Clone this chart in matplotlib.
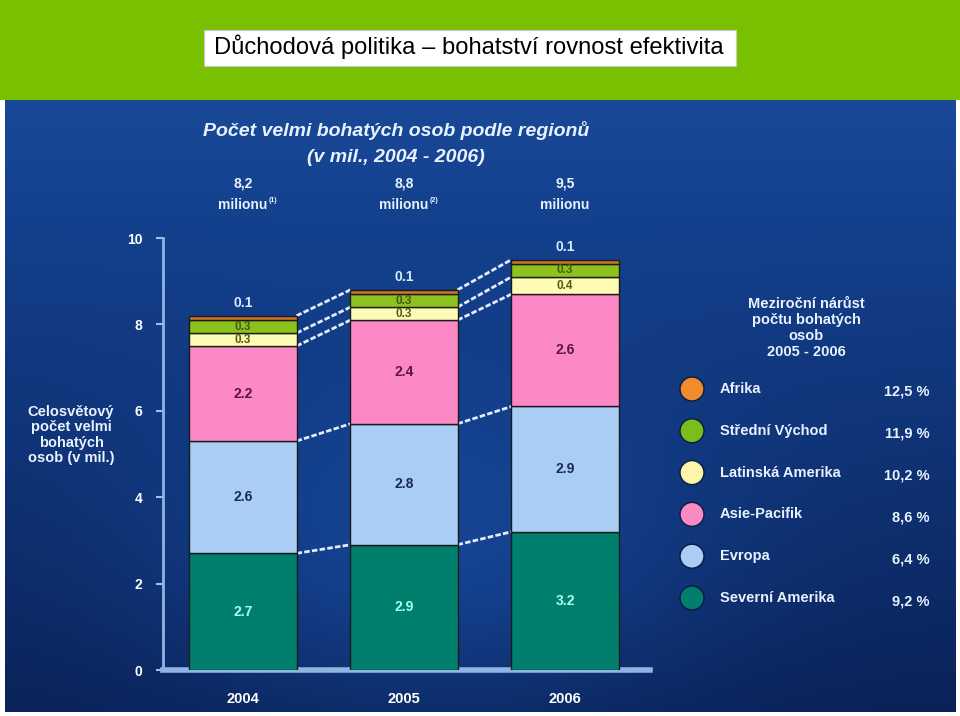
import numpy as np
import matplotlib.pyplot as plt
from matplotlib.colors import LinearSegmentedColormap
from matplotlib.patches import Rectangle, Ellipse

plt.rcParams['font.family'] = ['Liberation Sans', 'DejaVu Sans']

years = ['2004', '2005', '2006']
totals = ['8,2', '8,8', '9,5']
total_notes = ['(1)', '(2)', '']
regions = ['Severní Amerika', 'Evropa', 'Asie-Pacifik', 'Latinská Amerika',
           'Střední Východ', 'Afrika']
values = {
    'Severní Amerika': [2.7, 2.9, 3.2],
    'Evropa': [2.6, 2.8, 2.9],
    'Asie-Pacifik': [2.2, 2.4, 2.6],
    'Latinská Amerika': [0.3, 0.3, 0.4],
    'Střední Východ': [0.3, 0.3, 0.3],
    'Afrika': [0.1, 0.1, 0.1],
}
growth = {
    'Afrika': '12,5 %',
    'Střední Východ': '11,9 %',
    'Latinská Amerika': '10,2 %',
    'Asie-Pacifik': '8,6 %',
    'Evropa': '6,4 %',
    'Severní Amerika': '9,2 %',
}
legend_order = ['Afrika', 'Střední Východ', 'Latinská Amerika', 'Asie-Pacifik',
                'Evropa', 'Severní Amerika']

colors = {
    'Severní Amerika': '#00806c',
    'Evropa': '#a9cdf4',
    'Asie-Pacifik': '#fd88c6',
    'Latinská Amerika': '#fdfbb4',
    'Střední Východ': '#8cc21c',
    'Afrika': '#c8742a',
}
label_colors = {
    'Severní Amerika': '#a8fff4',
    'Evropa': '#1a2a50',
    'Asie-Pacifik': '#5a1838',
    'Latinská Amerika': '#5a5a10',
    'Střední Východ': '#4a5a10',
}
dot_colors = {
    'Afrika': '#f28a2e',
    'Střední Východ': '#7bbd1c',
    'Latinská Amerika': '#fbf6a8',
    'Asie-Pacifik': '#f98ac4',
    'Evropa': '#a9cdf4',
    'Severní Amerika': '#00806c',
}

W, H = 960, 716
fig = plt.figure(figsize=(9.6, 7.16), dpi=100)
fig.patch.set_facecolor('#ffffff')

def fx(px):
    return px / W

def fy(py):
    return 1 - py / H

# green header band
fig.patches.append(Rectangle((0, fy(100)), 1, 1 - fy(100), transform=fig.transFigure,
                             facecolor='#78c000', edgecolor='none', zorder=0))
fig.patches.append(Rectangle((fx(204), fy(66)), fx(532), fy(30) - fy(66),
                             transform=fig.transFigure, facecolor='white',
                             edgecolor='#c8c8c8', lw=0.8, zorder=1))
fig.text(fx(214), fy(47), 'Důchodová politika – bohatství rovnost efektivita',
         fontsize=17.1, color='black', va='center', ha='left')

# background picture area
bg = fig.add_axes([fx(5), fy(712), fx(950), fy(100) - fy(712)])
bg.set_axis_off()
yy, xx = np.mgrid[0:1:200j, 0:1:300j]
shade = 0.55 * (1 - yy) + 0.35 * np.exp(-((xx - 0.45) ** 2 + (yy - 0.75) ** 2) / 0.08)
cmap = LinearSegmentedColormap.from_list('bgblue', ['#0a2258', '#14418e', '#2a63b8'])
bg.imshow(shade, cmap=cmap, aspect='auto', extent=[0, 1, 0, 1], vmin=0, vmax=0.9)
bg.set_xlim(0, 1)
bg.set_ylim(0, 1)

# chart
ax = fig.add_axes([fx(163), fy(670), fx(650) - fx(163), fy(238) - fy(670)])
ax.set_facecolor('none')
x = np.arange(len(years))
width = 0.665
bottom = np.zeros(len(years))
cum = {}
for r in regions:
    v = np.array(values[r])
    ax.bar(x, v, width, bottom=bottom, color=colors[r], edgecolor='#1a1a1a',
           linewidth=1.0, zorder=3)
    for i in range(len(years)):
        mid = bottom[i] + v[i] / 2
        if r == 'Afrika':
            ax.text(x[i], bottom[i] + v[i] + 0.3, f'{v[i]:.1f}', ha='center', va='center',
                    fontsize=10, fontweight='bold', color='#d8ecff', zorder=5)
        elif r in ('Latinská Amerika', 'Střední Východ'):
            ax.text(x[i], mid, f'{v[i]:.1f}', ha='center', va='center',
                    fontsize=8.5, fontweight='bold', color=label_colors[r], zorder=5)
        else:
            ax.text(x[i], mid, f'{v[i]:.1f}', ha='center', va='center',
                    fontsize=10, fontweight='bold', color=label_colors[r], zorder=5)
    bottom = bottom + v
    cum[r] = bottom.copy()

# dashed connectors between bars
for r in ['Severní Amerika', 'Evropa', 'Asie-Pacifik', 'Latinská Amerika', 'Afrika']:
    c = cum[r]
    for i in range(len(years) - 1):
        ax.plot([x[i] + width / 2, x[i + 1] - width / 2], [c[i], c[i + 1]],
                color='#e4ecff', lw=2, ls=(0, (2, 0.8)), zorder=2)

ax.set_xlim(-0.497, 2.528)
ax.set_ylim(0, 10)
ax.set_yticks([0, 2, 4, 6, 8, 10])
ax.tick_params(axis='y', colors='#9cc0e8', labelcolor='white', length=5, width=1.5,
               pad=10)
for lab in ax.get_yticklabels():
    lab.set_fontweight('bold')
    lab.set_fontsize(10)
ax.set_xticks(x)
ax.set_xticklabels(years, fontsize=10.5, fontweight='bold', color='white')
ax.tick_params(axis='x', length=0, pad=16)
for s in ['top', 'right']:
    ax.spines[s].set_visible(False)
ax.spines['left'].set_color('#8fb4e4')
ax.spines['left'].set_linewidth(2)
ax.spines['bottom'].set_color('#8fb4e4')
ax.spines['bottom'].set_linewidth(4)

# header texts over the chart
fig.text(fx(396), fy(131), 'Počet velmi bohatých osob podle regionů', ha='center',
         va='center', fontsize=14, fontweight='bold', style='italic', color='#e8f2ff')
fig.text(fx(396), fy(158), '(v mil., 2004 - 2006)', ha='center', va='center',
         fontsize=14, fontweight='bold', style='italic', color='#e8f2ff')
for i, (t, n) in enumerate(zip(totals, total_notes)):
    cx = fx(243 + 161 * i)
    fig.text(cx, fy(184), t, ha='center', va='center', fontsize=10,
             fontweight='bold', color='#e8f2ff')
    fig.text(cx, fy(205), 'milionu', ha='center', va='center',
             fontsize=10, fontweight='bold', color='#e8f2ff')
    if n:
        fig.text(cx + fx(26), fy(201), n, ha='left', va='center', fontsize=5,
                 fontweight='bold', color='#e8f2ff')

fig.text(fx(71), fy(435), 'Celosvětový\npočet velmi\nbohatých\nosob (v mil.)',
         ha='center', va='center', fontsize=10.5, fontweight='bold', color='#e8f2ff',
         linespacing=1.15)

# legend
fig.text(fx(806), fy(328), 'Meziroční nárůst\npočtu bohatých\nosob\n2005 - 2006',
         ha='center', va='center', fontsize=10.5, fontweight='bold', color='#e8f2ff',
         linespacing=1.2)
for k, r in enumerate(legend_order):
    py = 389 + 41.8 * k
    fig.patches.append(Ellipse((fx(692), fy(py)), fx(24), 24 / H,
                               transform=fig.transFigure, facecolor=dot_colors[r],
                               edgecolor='#0a1a40', lw=1, zorder=5))
    fig.text(fx(720), fy(py), r, ha='left', va='center', fontsize=10.5,
             fontweight='bold', color='#e8f2ff')
    fig.text(fx(930), fy(py + 3), growth[r], ha='right', va='center', fontsize=10.5,
             fontweight='bold', color='#e8f2ff')

fig.savefig('out.png', dpi=100)
